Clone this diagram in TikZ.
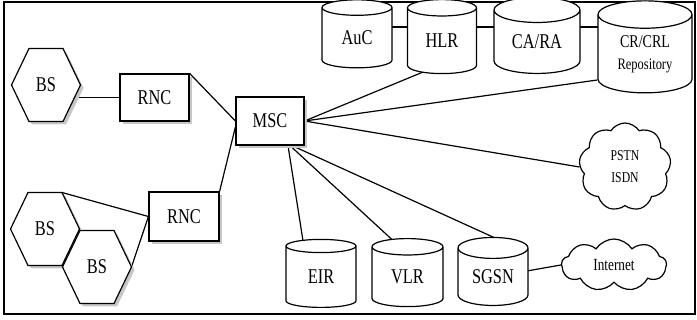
\documentclass[tikz,border=0pt]{standalone}
\usepackage{fontspec}
\setmainfont{Liberation Serif}[FakeStretch=0.78]
\usetikzlibrary{shapes.geometric,shapes.symbols,shadows,backgrounds}

\begin{document}
\begin{tikzpicture}[x=1pt,y=-1pt,
  link/.style={line width=1.2pt},
  boxshadow/.style={drop shadow={shadow xshift=3pt,shadow yshift=-3pt,fill=black!22,opacity=1}},
  box/.style={draw,line width=1.2pt,fill=white,boxshadow,minimum width=69pt,
    minimum height=47pt,inner sep=0pt,font=\fontsize{21}{22}\selectfont},
  hexcell/.style={draw,line width=1.2pt,fill=white,boxshadow},
  db/.style={draw,line width=1.2pt,fill=white,cylinder,shape border rotate=90,
    aspect=0.5,minimum width=70pt,minimum height=68pt,inner sep=0pt,
    font=\fontsize{21}{22}\selectfont,align=center},
  net/.style={draw,line width=1.2pt,fill=white,cloud,cloud puffs=9,
    cloud puff arc=115,cloud ignores aspect,inner sep=0pt,align=center}
]
  \useasboundingbox (0,0) rectangle (697,320);
  \draw[line width=2pt] (4,2) rectangle (695,314);

  % base stations
  \foreach \n/\x/\y in {bs1/46/85, bs2/45/229, bs3/97/267} {
    \draw[hexcell] (\x,\y) +(-34.5,0) -- +(-17,-36.5) -- +(17,-36.5)
      -- +(34.5,0) -- +(17,36.5) -- +(-17,36.5) -- cycle;
    \node[font=\fontsize{21}{22}\selectfont] (\n) at (\x,\y) {BS};
  }

  % radio network controllers and switch
  \node[box] (rnc1) at (154.5,97.5) {RNC};
  \node[box,minimum width=68pt,minimum height=48pt] (msc) at (270,121) {MSC};
  \node[box,minimum width=70pt,minimum height=49pt] (rnc2) at (184,216.5) {RNC};

  % databases, top row
  \node[db] (auc) at (357,38) {AuC};
  \node[db,minimum width=69pt,minimum height=74pt] (hlr) at (442,41) {HLR};
  \node[db,minimum width=86pt,minimum height=76pt] (cara) at (537,42) {CA/RA};
  \node[db,minimum width=94pt,minimum height=92pt] (crl) at (645,54)
    {{\fontsize{18}{20}\selectfont CR/CRL}\\{\fontsize{16}{18}\selectfont Repository}};

  % databases, bottom row
  \node[db] (eir) at (321,277) {EIR};
  \node[db,minimum width=71pt] (vlr) at (407.5,277) {VLR};
  \node[db] (sgsn) at (493,277) {SGSN};

  % outside networks
  \node[net,minimum width=92pt,minimum height=88pt,font=\fontsize{15}{22}\selectfont]
    (pstn) at (625,167) {PSTN\\ISDN};
  \node[net,minimum width=105pt,minimum height=52pt,font=\fontsize{17}{18}\selectfont]
    (inet) at (614,265) {Internet};

  % connections
  \begin{scope}[on background layer]
    \draw[link] (rnc1.west) -- (bs1.center |- rnc1.west);
    \draw[link] (rnc1.north east) -- (msc.west);
    \draw[link] (rnc2.north east) -- ([yshift=-6pt]msc.west);
    \draw[link] (rnc2.west) -- ([shift={(17,-36.5)}]bs2.center);
    \draw[link] (rnc2.west) -- ([xshift=34.5pt]bs3.center);
    \draw[link] (auc.center |- 0,27) -- (crl.center |- 0,27);
    \draw[link] (msc.east) -- ([xshift=-17pt,yshift=3pt]hlr.south);
    \draw[link] (msc.east) -- ([yshift=-26pt]crl.west);
    \draw[link] (msc.east) -- (pstn.west);
    \draw[link] ([xshift=18pt]msc.south) -- ([xshift=-18pt,yshift=-2pt]eir.north);
    \draw[link] ([xshift=20pt]msc.south) -- ([xshift=-15pt,yshift=-2pt]vlr.north);
    \draw[link] ([xshift=22pt]msc.south) -- ([xshift=4pt,yshift=-2pt]sgsn.north);
    \draw[link] (sgsn.center) -- (inet.west);
  \end{scope}
\end{tikzpicture}
\end{document}
